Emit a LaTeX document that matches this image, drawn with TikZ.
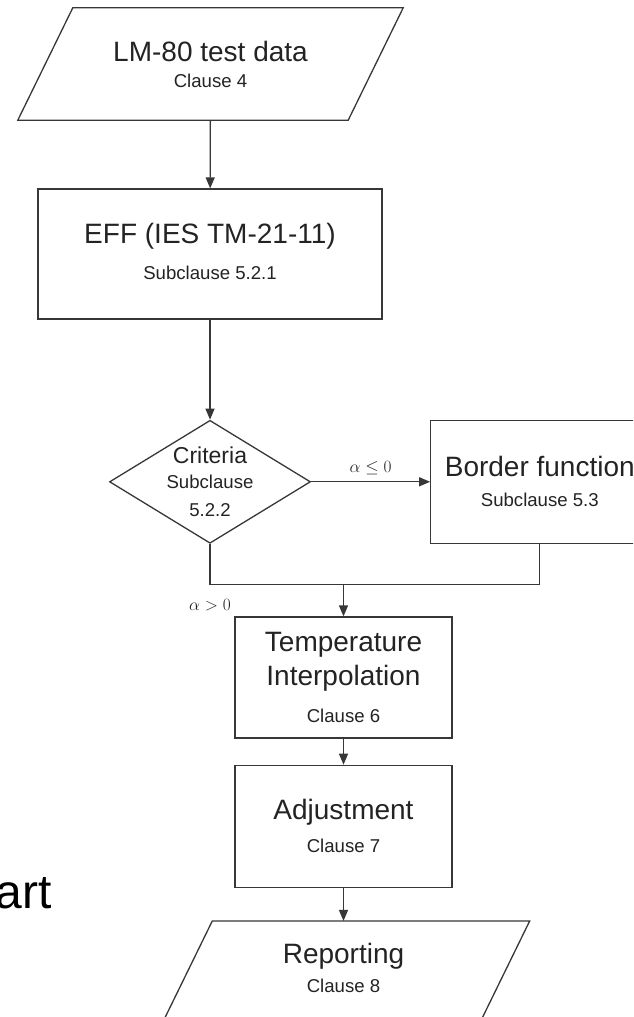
\documentclass[tikz,border=0pt]{standalone}
\usepackage{fontspec}
\setmainfont{Liberation Sans}
\usetikzlibrary{arrows.meta,shapes.geometric,positioning}
\definecolor{linegray}{RGB}{55,55,55}
\definecolor{textgray}{RGB}{35,35,35}
% one baselineskip for every size, so the gaps below are exact
\newcommand{\bigtxt}{\fontsize{28}{24}\selectfont}
\newcommand{\midtxt}{\fontsize{23}{24}\selectfont}
\newcommand{\smalltxt}{\fontsize{18.6}{24}\selectfont}
\tikzset{
  procbox/.style={draw=linegray, line width=1.3pt, minimum width=#1,
                  minimum height=123pt, align=center, inner sep=0pt,
                  text=textgray, font=\smalltxt},
  procbox/.default=217pt,
  iobox/.style  ={minimum width=#1, minimum height=112pt, align=center,
                  inner sep=0pt, text=textgray, font=\smalltxt},
  decbox/.style ={diamond, aspect=1.63, draw=linegray, line width=1.3pt,
                  minimum width=201pt, minimum height=123pt, inner sep=0pt},
  dectext/.style={align=center, text=textgray, inner sep=0pt, font=\smalltxt},
  cond/.style   ={font=\fontsize{16.5}{18}\selectfont, text=textgray, inner sep=1pt},
  flowline/.style={line width=1.3pt, draw=linegray},
  arr/.style    ={flowline, -{Triangle[length=11pt,width=9pt]}},
}
% data box outline: the node's top edge pushed right, bottom edge left
\newcommand{\slantbox}[1]{%
  \draw[flowline] ([xshift=27.5pt]#1.north west) -- ([xshift=27.5pt]#1.north east)
    -- ([xshift=-27.5pt]#1.south east) -- ([xshift=-27.5pt]#1.south west) -- cycle;}

\begin{document}
\begin{tikzpicture}[x=1pt,y=-1pt]
  \useasboundingbox (0,0) rectangle (633,1017);
  \clip (0,0) rectangle (633,1017);
  % boxes of the chart
  \node[iobox=330pt] (lm) at (210.5,64) {\bigtxt LM-80 test data\\[2pt]\smalltxt Clause 4};
  \node[procbox=344pt, minimum height=130pt] (eff) at (210,254)
       {\bigtxt EFF (IES TM-21-11)\\[12pt]\smalltxt Subclause 5.2.1\\[-18pt]};
  \node[decbox, below=100pt of eff,
        label={[dectext]center:{\midtxt Criteria\\[1pt]\smalltxt Subclause\\[4pt]\smalltxt 5.2.2}}] (crit) {};
  \node[procbox=218pt, right=119pt of crit] (bord)
       {\bigtxt Border function\\[6pt]\smalltxt Subclause 5.3};
  \node[procbox, minimum height=121pt] (temp) at (343.5,677.5)
       {\bigtxt Temperature\\[7pt]\bigtxt Interpolation\\[13pt]\smalltxt Clause 6};
  \node[procbox, minimum height=122pt, below=26pt of temp] (adj)
       {\bigtxt Adjustment\\[9pt]\smalltxt Clause 7};
  \node[iobox=317pt, below=33pt of adj] (rep) {\bigtxt Reporting\\[5pt]\smalltxt Clause 8\\[-6pt]};
  \slantbox{lm}
  \slantbox{rep}
  \coordinate[above=32pt of temp.north] (join);
  % connectors
  \draw[arr] (lm) -- (eff);
  \draw[arr] (eff) -- (crit);
  \draw[arr] (crit) -- node[cond, above=5pt] {$\alpha\leq 0$} (bord);
  \draw[flowline] (crit) |- node[cond, pos=0.5, below=13pt] {$\alpha > 0$} (join) -| (bord);
  \draw[arr] (join) -- (temp);
  \draw[arr] (temp) -- (adj);
  \draw[arr] (adj) -- (rep);
  % tail of the slide title
  \node[anchor=base east, font=\fontsize{48}{50}\selectfont, inner sep=0pt] (tail) at (52,908) {art};
\end{tikzpicture}
\end{document}
